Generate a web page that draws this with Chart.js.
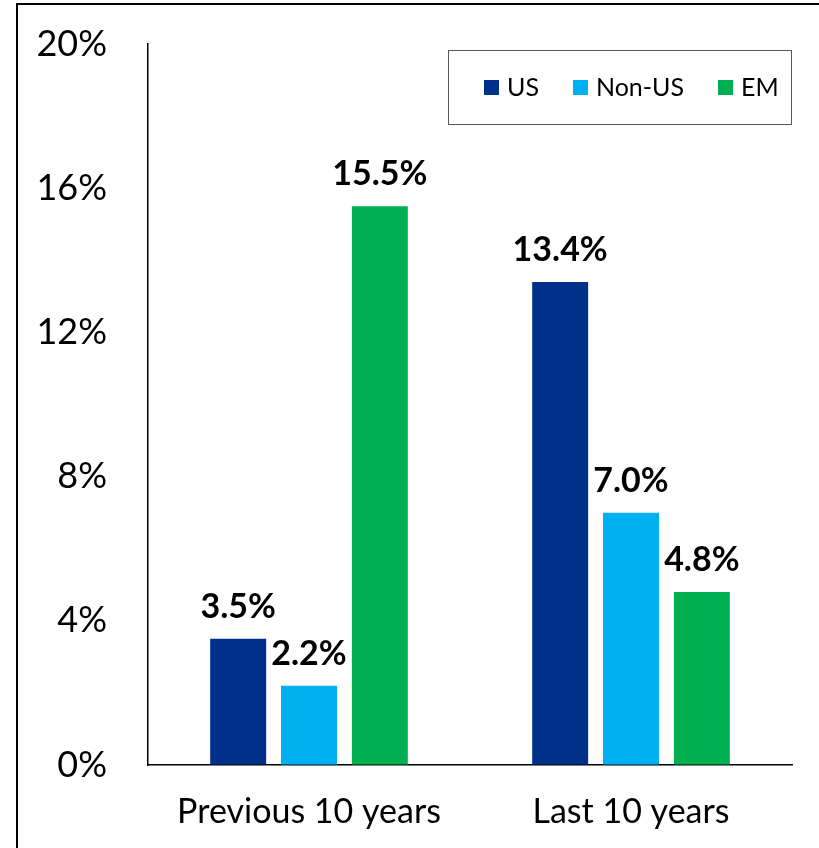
<!DOCTYPE html>
<html>
<head>
<meta charset="utf-8">
<script src="https://cdn.jsdelivr.net/npm/chart.js@4.4.0/dist/chart.umd.min.js"></script>
<style>
  html, body { margin: 0; padding: 0; background: #fff; overflow: hidden; }
  #frame { position: absolute; left: 16px; top: 3px; width: 1000px; height: 1000px; border-left: 2px solid #000; border-top: 2px solid #000; }
  #returnsChart { position: absolute; left: 0; top: 0; }
</style>
</head>
<body>
<div id="frame"></div>
<canvas id="returnsChart" width="819" height="848"></canvas>
<script>
const categories = ['Previous 10 years', 'Last 10 years'];
const seriesNames = ['US', 'Non-US', 'EM'];
const seriesColors = ['#00308A', '#00B0F0', '#00B050'];
const usValues = [3.5, 13.4];
const nonUsValues = [2.2, 7.0];
const emValues = [15.5, 4.8];
const yTickValues = [0, 4, 8, 12, 16, 20];

const FONT = 'Lato, "Open Sans", sans-serif';

// value labels above each bar
const barLabels = {
  id: 'barLabels',
  afterDatasetsDraw(chart) {
    const ctx = chart.ctx;
    ctx.save();
    ctx.font = 'bold 34px ' + FONT;
    ctx.fillStyle = '#000';
    ctx.textAlign = 'center';
    ctx.textBaseline = 'alphabetic';
    chart.data.datasets.forEach((ds, i) => {
      chart.getDatasetMeta(i).data.forEach((bar, j) => {
        ctx.fillText(ds.data[j].toFixed(1) + '%', bar.x, bar.y - 21);
      });
    });
    ctx.restore();
  }
};

// boxed legend in the top right of the plot
const boxLegend = {
  id: 'boxLegend',
  afterDraw(chart) {
    const ctx = chart.ctx;
    const area = chart.chartArea;
    const left = area.right - 344, top = area.top + 6, w = 343, h = 74;
    ctx.save();
    ctx.fillStyle = '#fff';
    ctx.fillRect(left, top, w, h);
    ctx.strokeStyle = '#595959';
    ctx.lineWidth = 1;
    ctx.strokeRect(left + 0.5, top + 0.5, w, h);
    ctx.font = '25px ' + FONT;
    ctx.textBaseline = 'middle';
    let x = left + 36;
    const cy = top + 37;
    chart.data.datasets.forEach(ds => {
      ctx.fillStyle = ds.backgroundColor;
      ctx.fillRect(x, cy - 7, 15, 15);
      ctx.fillStyle = '#000';
      ctx.fillText(ds.label, x + 23, cy + 1);
      x += 23 + ctx.measureText(ds.label).width + 34;
    });
    ctx.restore();
  }
};

const allValues = [usValues, nonUsValues, emValues];

new Chart(document.getElementById('returnsChart').getContext('2d'), {
  type: 'bar',
  data: {
    labels: categories,
    datasets: seriesNames.map((name, i) => ({
      label: name,
      data: allValues[i],
      backgroundColor: seriesColors[i],
      borderWidth: 0,
      barPercentage: 0.79,
      categoryPercentage: 0.66
    }))
  },
  options: {
    responsive: false,
    animation: false,
    layout: { padding: { top: 44, right: 27, left: 0, bottom: 0 } },
    plugins: {
      legend: { display: false },
      tooltip: { enabled: false }
    },
    scales: {
      x: {
        grid: { display: true, drawOnChartArea: false, drawTicks: false },
        border: { display: true, color: '#000', width: 1.5 },
        ticks: { color: '#000', font: { family: FONT, size: 34 }, padding: 27 },
        afterFit(scale) { scale.height = 83; }
      },
      y: {
        min: 0,
        max: 20,
        afterBuildTicks(scale) { scale.ticks = yTickValues.map(v => ({ value: v })); },
        // invisible tick marks give the gap between labels and axis
        grid: { display: true, drawOnChartArea: false, drawTicks: true, tickLength: 41, tickColor: 'rgba(0,0,0,0)' },
        border: { display: true, color: '#000', width: 1.5 },
        ticks: {
          color: '#000',
          font: { family: FONT, size: 36 },
          padding: 0,
          callback: v => v + '%'
        },
        afterFit(scale) { scale.width = 148; }
      }
    }
  },
  plugins: [barLabels, boxLegend]
});
</script>
</body>
</html>
